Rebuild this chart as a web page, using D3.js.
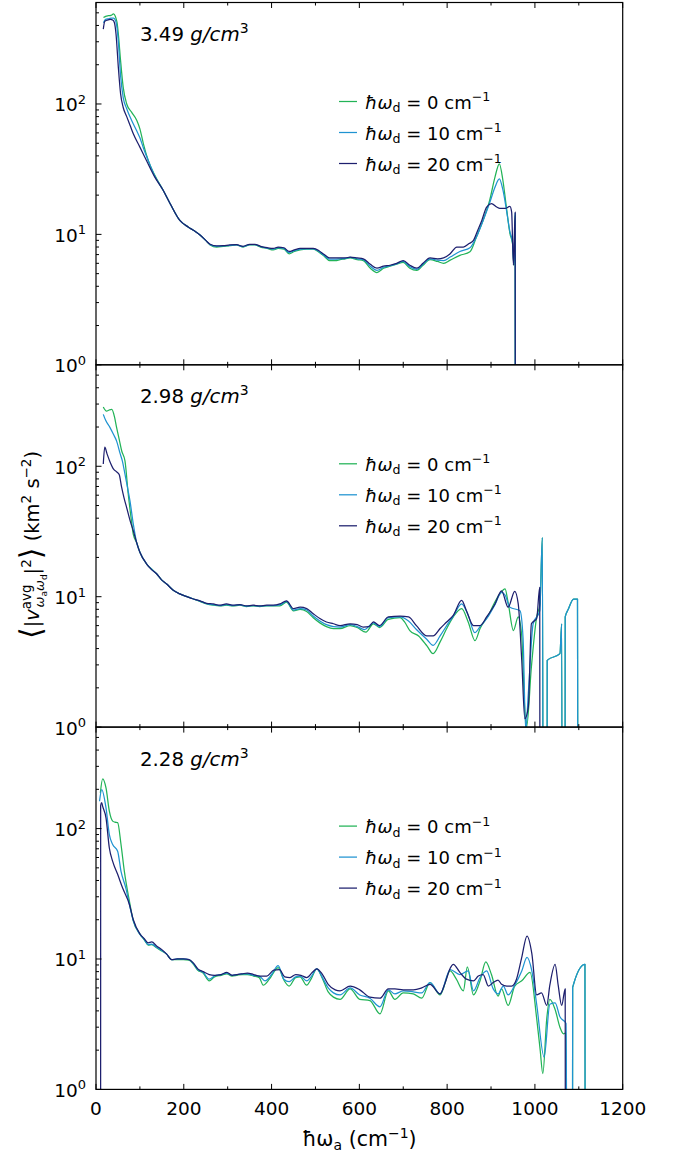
<!DOCTYPE html>
<html><head><meta charset="utf-8">
<script src="https://cdn.jsdelivr.net/npm/d3@7"></script>
<style>
body{margin:0;background:#fff;}
text{font-family:"DejaVu Sans",sans-serif;fill:#000;}
</style></head><body>
<svg id="chart" width="681" height="1154"></svg>
<script>
// Panel labels (densities) and series (damping frequency, cm^-1)
const densities = ["3.49", "2.98", "2.28"];
const dampings = ["0", "10", "20"];
const seriesColors = ["#22b357", "#1f93d1", "#1d1f6e"];
const xTickValues = [0, 200, 400, 600, 800, 1000, 1200];
const xMinorValues = [100, 300, 500, 700, 900, 1100];
const yMajorValues = [1, 10, 100];
const yTickExponents = ["0", "1", "2"];

// ---- 3.49 g/cm3 : [ħω_a (cm^-1), <|v|^2> (km^2 s^-2)] ----
const d349_w0 = [[17,460],[22,470],[28,475],[34,478],[40,490],[44,470],[48,420],[50.9,344],[56,215],[62,134],[70,100],[81,86.5],[93,74.7],[100,64.5],[108,49.5],[119,36.9],[134,28.4],[153,21.8],[169,17.2],[191,12.8],[210,11.4],[225,10.6],[237,9.9],[250,9.0],[260,8.3],[275,8.0],[290,8.1],[305,8.2],[320,8.3],[335,8.0],[350,8.3],[362,8.3],[375,8.0],[390,7.8],[404,7.6],[415,7.8],[428,7.7],[440,7.1],[452,7.4],[465,7.6],[480,7.7],[495,7.7],[508,7.3],[520,6.8],[532,6.3],[545,6.3],[556,6.4],[568,6.5],[579,6.6],[595,6.4],[609,6.3],[625,5.5],[640,5.1],[655,5.5],[670,5.7],[685,5.9],[700,6.1],[715,5.5],[731,5.3],[745,5.8],[761,6.4],[778,6.2],[792,6.0],[807,6.35],[829,6.9],[852,7.35],[867,9.6],[882,12.8],[897,18.3],[909,27.5],[919,34.8],[927,26],[935,16.2],[943,10.2],[949,8.5],[952,5.8],[955,14.0],[956,0.001]];
const d349_w10 = [[17,420],[22,445],[28,450],[34,455],[40,455],[44,440],[48,380],[50.9,300],[56,165],[62,112],[70,92],[81,75],[93,62],[100,55],[108,46],[119,36.9],[134,28],[153,21.8],[169,17.2],[191,12.8],[210,11.4],[225,10.6],[237,9.9],[250,9.0],[260,8.35],[275,8.1],[290,8.15],[305,8.25],[320,8.3],[335,8.05],[350,8.35],[362,8.35],[375,8.05],[390,7.85],[404,7.7],[415,7.9],[428,7.8],[440,7.25],[452,7.5],[465,7.7],[480,7.75],[495,7.75],[508,7.4],[520,6.9],[532,6.45],[545,6.45],[556,6.5],[568,6.55],[579,6.65],[595,6.5],[609,6.4],[625,5.7],[640,5.3],[655,5.6],[670,5.75],[685,5.95],[700,6.2],[715,5.65],[731,5.4],[745,5.9],[761,6.5],[778,6.35],[792,6.3],[807,6.7],[829,7.4],[852,7.9],[867,9.6],[882,12.8],[897,17.5],[909,23],[919,26.7],[927,22],[935,15.5],[943,10.5],[949,8.6],[952,6.0],[955,14.5],[956,0.001]];
const d349_w20 = [[16.6,375],[20,430],[26,440],[33,445],[38,440],[42,420],[45.6,344],[50.9,191],[56,120],[62,94],[70,80],[78,68],[85,59],[100,46.7],[115,36.9],[134,27.5],[153,21.8],[169,17.2],[191,12.8],[210,11.4],[225,10.6],[237,9.9],[250,9.0],[260,8.4],[275,8.15],[290,8.2],[305,8.3],[320,8.35],[335,8.1],[350,8.4],[362,8.4],[375,8.1],[390,7.9],[404,7.8],[415,8.0],[428,7.9],[440,7.4],[452,7.6],[465,7.8],[480,7.8],[495,7.8],[508,7.5],[520,7.0],[532,6.6],[545,6.6],[556,6.6],[568,6.6],[579,6.7],[595,6.6],[609,6.5],[625,5.9],[640,5.5],[655,5.7],[670,5.8],[685,6.0],[700,6.3],[715,5.8],[731,5.5],[745,6.0],[761,6.6],[778,6.5],[792,6.6],[807,7.1],[822,8.0],[837,8.0],[850,8.5],[860,9.0],[870,10.8],[879,12.8],[890,16.2],[901,17.2],[913,16.2],[920,15.8],[932,15.8],[943,16.4],[947,14.8],[951,5.8],[955,14.8],[956,0.001]];

// ---- 2.98 g/cm3 ----
const d298_w0 = [[16.6,285],[24,265],[30,270],[36,273],[42,240],[47,198],[53,160],[58.6,131],[66,110],[73.5,61],[80,40],[85,30],[92.6,26],[100,21.9],[115.5,17.8],[126,16.4],[138,15],[150,13.4],[161,12.5],[176,11.2],[191,10.5],[207,10.0],[222,9.6],[237,9.2],[252,8.8],[267,8.6],[282,8.5],[297,8.6],[313,8.5],[328,8.6],[343,8.4],[358,8.5],[373,8.4],[389,8.5],[404,8.5],[419,8.5],[434,9.1],[450,7.8],[465,8.0],[480,7.7],[495,6.9],[510,6.3],[525,5.9],[541,5.7],[556,5.7],[579,6.0],[595,5.8],[615,5.35],[632,6.2],[646,5.8],[666,6.7],[693,6.9],[703,6.4],[715,5.5],[735,5.0],[754,4.2],[768,3.66],[784,4.5],[799,5.7],[814,7.0],[833,8.1],[848,6.4],[863.5,4.6],[875,5.7],[894,7.2],[905,8.6],[920,10.5],[932,11.5],[939,9.0],[951,5.5],[962,7.0],[970,5.0],[977,1.35],[981,1.0],[992,2.9],[1004,7.0],[1011.6,8.8],[1017,28.5],[1020,0.001],[1027,0.001],[1028,3.25],[1057,3.66],[1061,6.2],[1063,0.001],[1068,0.001],[1069,7.0],[1076,8.0],[1088,9.6],[1097,9.6],[1099,0.001]];
const d298_w10 = [[16.6,250],[22,225],[32,198],[40,175],[47,156],[55,125],[60,110],[66,87],[72,68],[77.5,54],[85,36],[92.6,26],[100,21.9],[115.5,17.8],[126,16.3],[138,15],[150,13.4],[161,12.5],[176,11.2],[191,10.5],[207,10.0],[222,9.6],[237,9.25],[252,8.85],[267,8.7],[282,8.55],[297,8.7],[313,8.55],[328,8.65],[343,8.45],[358,8.55],[373,8.45],[389,8.55],[404,8.55],[419,8.65],[434,9.2],[450,7.9],[465,8.1],[480,7.9],[495,7.1],[510,6.5],[525,6.1],[541,5.9],[556,5.85],[579,6.1],[595,5.9],[612,5.6],[632,6.3],[646,5.9],[666,6.9],[693,7.0],[712,6.5],[730,5.6],[754,4.7],[768,4.24],[784,5.0],[799,6.0],[814,7.1],[833,8.8],[848,7.2],[863,5.3],[875,5.9],[894,7.1],[909,8.7],[924,10.8],[932,10.3],[943,8.3],[966,7.8],[973,4.8],[979,0.95],[985,1.82],[996,6.2],[1011,7.8],[1017,28.5],[1020,0.001],[1027,0.001],[1028,3.25],[1057,3.66],[1061,6.2],[1063,0.001],[1068,0.001],[1069,7.0],[1076,8.0],[1088,9.6],[1097,9.6],[1099,0.001]];
const d298_w20 = [[16.6,104],[20,140],[25,125],[32,108],[40,95],[48,90],[53,86],[58,70],[64,57],[70,48],[78,38],[85,32],[92.6,26],[100,21.9],[115.5,17.8],[126,16.2],[138,15],[150,13.4],[161,12.5],[176,11.2],[191,10.5],[207,10.0],[222,9.6],[237,9.3],[252,8.9],[267,8.8],[282,8.6],[297,8.8],[313,8.6],[328,8.7],[343,8.5],[358,8.6],[373,8.5],[389,8.6],[404,8.6],[419,8.8],[434,9.3],[450,8.1],[465,8.3],[480,8.1],[495,7.4],[510,6.8],[525,6.4],[541,6.2],[556,6.0],[579,6.2],[595,6.1],[609,5.85],[622,5.9],[632,6.4],[646,6.0],[666,7.0],[693,7.1],[712,7.0],[730,6.0],[754,5.0],[768,5.0],[784,5.7],[799,6.4],[814,7.2],[833,9.35],[844,7.8],[860,6.0],[875,6.0],[890,7.0],[909,8.8],[924,11.1],[939,8.3],[954,11.0],[962,8.8],[970,3.25],[977,1.16],[985,1.43],[992,6.2],[1004,6.8],[1011,11.8],[1012,0.001]];

// ---- 2.28 g/cm3 ----
const d228_w0 = [[9.9,188],[15.2,241],[22.8,205],[30.4,136],[38,114],[43,112],[49.3,111],[57,75.5],[64.6,47],[76,27.9],[85,19.6],[100,15.5],[110,14.0],[119,12.8],[127,12.9],[138,12.2],[150,11.5],[161,10.9],[172,9.9],[185,9.9],[199,9.9],[212,9.8],[222,9.1],[232,8.2],[244,7.8],[258,6.8],[270,7.3],[285,7.5],[298,7.7],[310,7.4],[321,7.5],[333,7.6],[345,7.6],[359,7.4],[372,7.2],[381,6.3],[395,7.0],[415,8.6],[428,6.9],[440,6.2],[455,7.2],[465,7.3],[480,6.3],[490,7.0],[503,8.4],[515,7.2],[529,5.6],[541,5.1],[556,4.9],[579,5.9],[601,4.9],[624,4.8],[647,3.8],[666,5.7],[681,4.9],[700,5.5],[723,5.4],[742,5.0],[761,6.6],[784,5.3],[807,8.1],[821,7.0],[837,5.7],[846,8.7],[860,5.3],[875,6.8],[888,9.5],[901,7.6],[916,5.2],[924,5.9],[939,4.4],[954,6.2],[970,6.8],[989,7.9],[1004,3.5],[1012,2.0],[1018,1.32],[1027,3.5],[1034,4.9],[1046,4.1],[1057,3.0],[1065,2.67],[1071,2.7],[1075,0.001],[1085,0.001],[1086,6.05],[1114,9.1],[1115,0.001]];
const d228_w10 = [[8,162],[13,199],[22.8,144],[30.4,90],[38,75.5],[49.3,67],[57,47],[68,35],[77.5,25],[85,19.6],[100,15.5],[110,14.1],[119,12.9],[127,13.0],[138,12.3],[150,11.6],[161,10.9],[172,9.9],[185,10.0],[199,10.0],[212,9.9],[222,9.2],[232,8.3],[244,7.9],[258,7.0],[270,7.4],[285,7.6],[298,7.8],[310,7.5],[321,7.6],[333,7.7],[345,7.7],[359,7.5],[372,7.4],[385,6.8],[400,7.6],[415,8.9],[428,7.0],[440,6.7],[455,7.3],[465,7.4],[480,6.8],[490,7.3],[503,8.4],[515,7.3],[529,6.0],[541,5.5],[556,5.3],[579,6.0],[601,5.3],[624,5.0],[647,4.3],[666,5.8],[681,5.4],[700,5.7],[723,5.6],[742,5.5],[761,6.6],[784,5.4],[807,8.3],[829,7.6],[848,8.1],[860,5.7],[875,7.2],[890,8.1],[905,5.9],[916,5.4],[928,6.2],[939,5.3],[954,6.3],[970,8.1],[982,10.3],[993,8.1],[1004,4.5],[1021,1.77],[1034,4.5],[1046,4.6],[1057,3.6],[1071,3.2],[1075,0.001],[1085,0.001],[1086,6.05],[1114,9.1],[1115,0.001]];
const d228_w20 = [[10.5,0.001],[10.6,150],[13,158],[15.2,148],[22.8,121],[30.4,71],[38,56],[49.3,44.6],[60.7,35],[76,26.3],[85,20],[100,15.6],[110,14.3],[119,13.3],[127,13.5],[138,12.6],[150,11.8],[161,10.9],[172,9.9],[185,10.0],[199,10.0],[212,9.9],[222,9.3],[232,8.4],[244,8.0],[258,7.6],[270,7.5],[285,7.6],[298,7.9],[310,7.5],[321,7.6],[333,7.7],[345,7.8],[359,7.6],[372,7.4],[389,7.4],[405,8.2],[418,8.3],[430,7.3],[442,7.2],[455,7.6],[467,7.5],[480,7.2],[493,7.9],[503,8.4],[515,7.7],[529,6.4],[545,5.8],[556,5.7],[579,6.2],[601,5.8],[624,5.1],[647,5.0],[666,5.9],[681,5.9],[700,5.8],[723,5.8],[742,6.0],[761,6.4],[784,5.4],[795,6.5],[807,8.5],[814,9.1],[829,7.9],[844,7.0],[860,6.8],[871,7.4],[882,7.6],[894,6.2],[905,6.6],[916,6.9],[924,6.4],[936,6.2],[947,6.2],[958,7.0],[970,10.3],[982,15],[993,11],[1004,5.3],[1015,5.5],[1027,4.4],[1034,6.3],[1046,9.1],[1053,6.3],[1061,4.4],[1069,5.9],[1070,0.001]];

const panelData = [
  [d349_w0, d349_w10, d349_w20],
  [d298_w0, d298_w10, d298_w20],
  [d228_w0, d228_w10, d228_w20]
];

const svg = d3.select("#chart");
const left = 96, right = 622.7;
const panelTop0 = 2.5, panelH = 362.3;
const x = d3.scaleLinear().domain([0, 1200]).range([left, right]);
const FS = 18.5;

// Writes a run of text pieces with sub/superscript shifts into a <text>
function rich(textSel, parts) {
  let cur = 0;
  parts.forEach(p => {
    const shift = p.shift || 0;
    const ts = textSel.append("tspan").attr("dy", shift - cur).text(p.t);
    if (p.size) ts.attr("font-size", p.size);
    if (p.it) ts.attr("font-style", "italic");
    if (p.dx) ts.attr("dx", p.dx);
    cur = shift;
  });
}

const minorY = [];
[1, 10, 100].forEach(d => { for (let k = 2; k <= 9; k++) if (d * k < 600) minorY.push(d * k); });

panelData.forEach((series, i) => {
  const top = panelTop0 + i * panelH, bottom = top + panelH;
  const y = d3.scaleLog().domain([1, 600]).range([bottom, top]);
  const g = svg.append("g");

  const clipId = "clip" + i;
  svg.append("clipPath").attr("id", clipId).append("rect")
    .attr("x", left).attr("y", top).attr("width", right - left).attr("height", panelH);

  const line = d3.line()
    .x(d => x(d[0]))
    .y(d => y(Math.max(d[1], 1e-3)))
    .curve(d3.curveMonotoneX);

  const lines = g.append("g").attr("clip-path", `url(#${clipId})`);
  series.forEach((s, j) => {
    lines.append("path").datum(s)
      .attr("fill", "none").attr("stroke", seriesColors[j])
      .attr("stroke-width", 1.25).attr("stroke-linejoin", "round")
      .attr("d", line);
  });

  // ticks, inward on all sides that carry them
  const tk = g.append("g").attr("stroke", "#000").attr("stroke-width", 1);
  xTickValues.forEach(v => {
    tk.append("line").attr("x1", x(v)).attr("x2", x(v)).attr("y1", bottom).attr("y2", bottom - 5.5);
    tk.append("line").attr("x1", x(v)).attr("x2", x(v)).attr("y1", top).attr("y2", top + 5.5);
  });
  xMinorValues.forEach(v => {
    tk.append("line").attr("x1", x(v)).attr("x2", x(v)).attr("y1", bottom).attr("y2", bottom - 3);
    tk.append("line").attr("x1", x(v)).attr("x2", x(v)).attr("y1", top).attr("y2", top + 3);
  });
  yMajorValues.forEach(v => {
    tk.append("line").attr("x1", left).attr("x2", left + 5.5).attr("y1", y(v)).attr("y2", y(v));
  });
  minorY.forEach(v => {
    tk.append("line").attr("x1", left).attr("x2", left + 3).attr("y1", y(v)).attr("y2", y(v));
  });

  // frame
  g.append("rect").attr("x", left).attr("y", top).attr("width", right - left).attr("height", panelH)
    .attr("fill", "none").attr("stroke", "#000").attr("stroke-width", 1.2);

  // y tick labels
  yMajorValues.forEach((v, k) => {
    const t = g.append("text").attr("x", 86).attr("y", y(v) + 7.5)
      .attr("text-anchor", "end").attr("font-size", FS);
    rich(t, [{t: "10"}, {t: yTickExponents[k], size: 13, shift: -7.5}]);
  });

  // density label
  const dl = g.append("text").attr("x", 140).attr("y", top + 38.5).attr("font-size", 19.8);
  rich(dl, [{t: densities[i] + " "}, {t: "g/cm", it: true}, {t: "3", size: 14, shift: -8}]);

  // legend
  dampings.forEach((dmp, j) => {
    const ly = top + 99 + j * 31;
    g.append("line").attr("x1", 339).attr("x2", 357).attr("y1", ly).attr("y2", ly)
      .attr("stroke", seriesColors[j]).attr("stroke-width", 1.25);
    const t = g.append("text").attr("x", 365).attr("y", ly + 7).attr("font-size", 18);
    rich(t, [{t: "ħω", it: true}, {t: "d", size: 12.6, shift: 3.5},
             {t: " = " + dmp + " cm"}, {t: "−1", size: 12.6, shift: -7.5}]);
  });

  // x tick labels on the lowest panel
  if (i === panelData.length - 1) {
    xTickValues.forEach(v => {
      g.append("text").attr("x", x(v)).attr("y", bottom + 26)
        .attr("text-anchor", "middle").attr("font-size", FS).text(v);
    });
  }
});

// x axis title
const xt = svg.append("text").attr("x", (left + right) / 2).attr("y", 1146)
  .attr("text-anchor", "middle").attr("font-size", 20.5);
rich(xt, [{t: "ħω"}, {t: "a", size: 14, shift: 4}, {t: " (cm"}, {t: "−1", size: 14, shift: -8.5}, {t: ")", shift: 0}]);

// y axis title
const yt = svg.append("text").attr("transform", "translate(39,545) rotate(-90)")
  .attr("text-anchor", "middle").attr("font-size", 19.5);
rich(yt, [
  {t: "⟨", size: 30, shift: 1.5},
  {t: "|", shift: 0},
  {t: "v", it: true},
  {t: "avg", size: 13.5, shift: -8},
  {t: "ω", size: 13, it: true, shift: 5, dx: -23},
  {t: "a", size: 9, shift: 8},
  {t: "ω", size: 13, it: true, shift: 5},
  {t: "d", size: 9, shift: 8},
  {t: "|", shift: 0},
  {t: "2", size: 13.5, shift: -8},
  {t: "⟩", size: 30, shift: 1.5},
  {t: " (km", shift: 0},
  {t: "2", size: 13.5, shift: -8},
  {t: " s", shift: 0},
  {t: "−2", size: 13.5, shift: -8},
  {t: ")", shift: 0}
]);
</script>
</body></html>
